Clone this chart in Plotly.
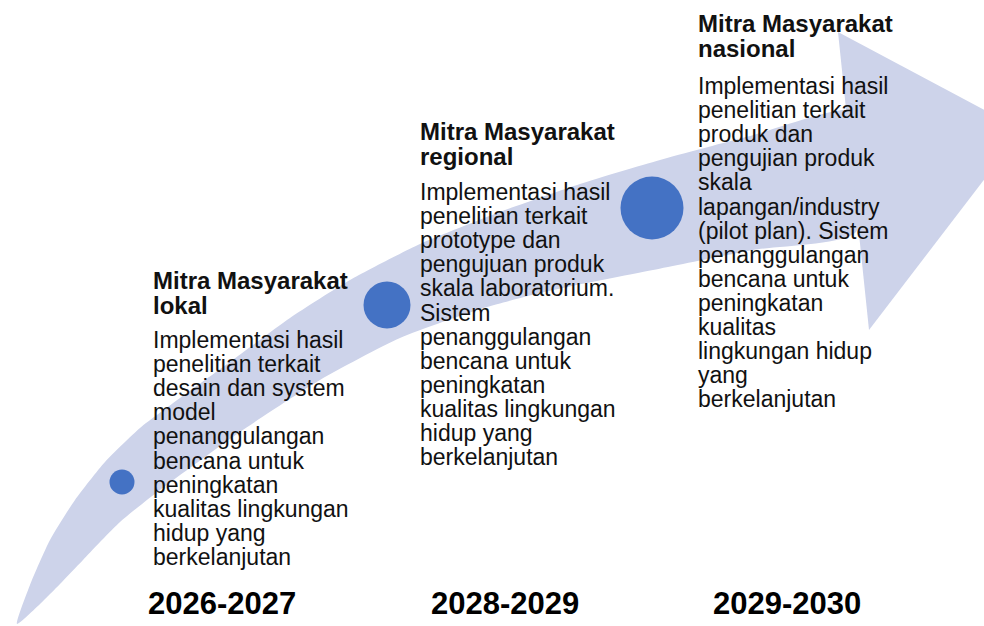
import plotly.graph_objects as go

# arrow outline (upper edge left->right, lower edge right->left)
upper_x = [17, 30, 50, 75, 105, 140, 180, 230, 290, 350, 420, 500, 580, 660, 750, 856]
upper_y = [624, 585, 540, 500, 462, 428, 398, 362, 318, 280, 244, 212, 184, 160, 136, 111]
lower_x = [856, 753, 653, 553, 487, 400, 320, 240, 160, 120, 83, 60, 40, 17]
lower_y = [232, 250, 270, 290, 307, 338, 380, 432, 490, 522, 560, 584, 604, 624]
head_x = [838, 1022, 869, 838]
head_y = [32, 130, 330, 32]

# milestone dots
dot_x = [122, 387, 652]
dot_y = [482, 305, 208]
dot_size = [25, 47, 63]

titles = [
    ["Mitra Masyarakat", "lokal"],
    ["Mitra Masyarakat", "regional"],
    ["Mitra Masyarakat", "nasional"],
]
bodies = [
    ["Implementasi hasil", "penelitian terkait", "desain dan system", "model",
     "penanggulangan", "bencana untuk", "peningkatan", "kualitas lingkungan",
     "hidup yang", "berkelanjutan"],
    ["Implementasi hasil", "penelitian terkait", "prototype dan", "pengujuan produk",
     "skala laboratorium.", "Sistem", "penanggulangan", "bencana untuk",
     "peningkatan", "kualitas lingkungan", "hidup yang", "berkelanjutan"],
    ["Implementasi hasil", "penelitian terkait", "produk dan", "pengujian produk",
     "skala", "lapangan/industry", "(pilot plan). Sistem", "penanggulangan",
     "bencana untuk", "peningkatan", "kualitas", "lingkungan hidup", "yang",
     "berkelanjutan"],
]
years = ["2026-2027", "2028-2029", "2029-2030"]

col_x = [151, 418, 696]
title_top = [280, 131, 23]
body_top = [340, 192, 86]
body_step = [24.1, 24.1, 24.1]
year_x = [222, 505, 787]

band = "#CDD3EA"
font = "Liberation Sans, Arial, sans-serif"

fig = go.Figure()
fig.add_trace(go.Scatter(x=upper_x + lower_x, y=upper_y + lower_y, mode="lines",
                         fill="toself", fillcolor=band, line=dict(width=0, shape="spline", smoothing=0.6),
                         hoverinfo="skip"))
fig.add_trace(go.Scatter(x=head_x, y=head_y, mode="lines", fill="toself", fillcolor=band,
                         line=dict(width=0), hoverinfo="skip"))
fig.add_trace(go.Scatter(x=dot_x, y=dot_y, mode="markers",
                         marker=dict(size=dot_size, color="#4472C4", opacity=1, line=dict(width=0)),
                         hoverinfo="skip"))

for i in range(3):
    for j, t in enumerate(titles[i]):
        fig.add_annotation(x=col_x[i], y=title_top[i] + j * 25, text="<b>" + t + "</b>",
                           xanchor="left", yanchor="middle", showarrow=False,
                           font=dict(family=font, size=24, color="#111111"))
    for j, t in enumerate(bodies[i]):
        fig.add_annotation(x=col_x[i], y=body_top[i] + j * body_step[i], text=t,
                           xanchor="left", yanchor="middle", showarrow=False,
                           font=dict(family=font, size=23, color="#111111"))
    fig.add_annotation(x=year_x[i], y=603, text="<b>" + years[i] + "</b>",
                       xanchor="center", yanchor="middle", showarrow=False,
                       font=dict(family=font, size=31, color="#000000"))

fig.update_layout(width=984, height=626, margin=dict(l=0, r=0, t=0, b=0),
                  paper_bgcolor="white", plot_bgcolor="white", showlegend=False,
                  xaxis=dict(range=[0, 984], visible=False, fixedrange=True),
                  yaxis=dict(range=[626, 0], visible=False, fixedrange=True))

fig.write_html("out.html", config={"displayModeBar": False},
               post_script="document.body.style.margin='0';")
